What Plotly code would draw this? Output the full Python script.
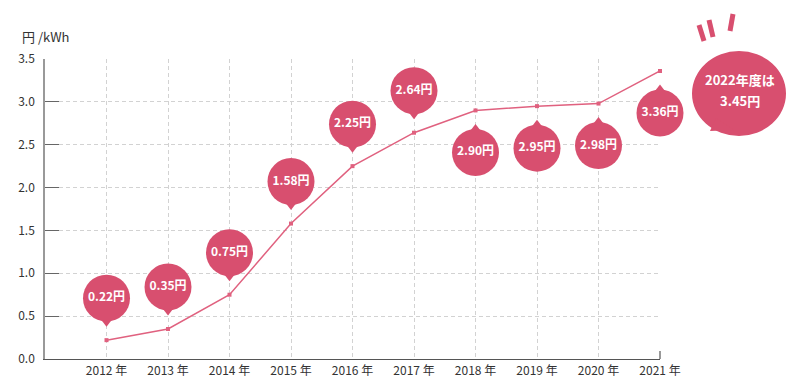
import plotly.graph_objects as go

years = [2012, 2013, 2014, 2015, 2016, 2017, 2018, 2019, 2020, 2021]
values = [0.22, 0.35, 0.75, 1.58, 2.25, 2.64, 2.90, 2.95, 2.98, 3.36]
labels = ["0.22円", "0.35円", "0.75円", "1.58円", "2.25円", "2.64円", "2.90円", "2.95円", "2.98円", "3.36円"]
tick_text = ["2012 年", "2013 年", "2014 年", "2015 年", "2016 年", "2017 年", "2018 年", "2019 年", "2020 年", "2021 年"]
y_ticks = [0, 0.5, 1, 1.5, 2, 2.5, 3, 3.5]
bubble_dir = [1, 1, 1, 1, 1, 1, -1, -1, -1, -1]  # +1 bubble above point, -1 below
callout_lines = ["2022年度は", "3.45円"]

PINK = "#d84f6f"
LINE = "#e0617f"
FONT = "Noto Sans CJK JP"

# page offset of the figure (default body margin)
O = 8
W, H = 800, 386
# plot area in page pixels: x 45..660, y 59..359
ML, MT = 45 - O, 59 - O
MR, MB = W - (660 - O), H - (359 - O)
PW, PH = W - ML - MR, H - MT - MB
YMAX = 3.5
px_per_unit = PH / YMAX

off = 42 / px_per_unit      # bubble centre offset from point
ptr = 24 / px_per_unit      # pointer offset from bubble centre

bx = years
by = [v + d * off for v, d in zip(values, bubble_dir)]
tx = years
ty = [b - d * ptr for b, d in zip(by, bubble_dir)]
tsym = ["triangle-down" if d > 0 else "triangle-up" for d in bubble_dir]

fig = go.Figure()
fig.add_trace(go.Scatter(
    x=years, y=values, mode="lines+markers",
    line=dict(color=LINE, width=1.5),
    marker=dict(symbol="square", size=4, color=LINE),
    cliponaxis=False, hoverinfo="skip"))
fig.add_trace(go.Scatter(
    x=tx, y=ty, mode="markers",
    marker=dict(symbol=tsym, size=9, color=PINK, line=dict(width=0)),
    cliponaxis=False, hoverinfo="skip"))
fig.add_trace(go.Scatter(
    x=bx, y=by, mode="markers+text", text=[f"<b>{t}</b>" for t in labels],
    textposition="middle center",
    textfont=dict(family=FONT, size=12, color="white"),
    marker=dict(symbol="circle", size=47, color=PINK, line=dict(width=0)),
    cliponaxis=False, hoverinfo="skip"))


def px(x):  # page pixel -> paper
    return (x - O - ML) / PW


def py(y):
    return (H - MB - (y - O)) / PH


shapes = []
# bottom-right axis end cap
shapes.append(dict(type="line", xref="paper", yref="paper", x0=px(660), x1=px(660),
                   y0=py(359), y1=py(351), line=dict(color="#555", width=1.2)))
# callout bubble
shapes.append(dict(type="circle", xref="paper", yref="paper",
                   x0=px(692), x1=px(786), y0=py(136), y1=py(51),
                   fillcolor=PINK, line=dict(width=0), layer="above"))
shapes.append(dict(type="path", xref="paper", yref="paper",
                   path=f"M {px(716)},{py(118)} L {px(710)},{py(131)} L {px(734)},{py(130)} Z",
                   fillcolor=PINK, line=dict(width=0), layer="above"))
for (x0, y0, x1, y1) in [(699, 25, 704, 41), (709, 20, 713, 37), (733, 14, 730, 31)]:
    shapes.append(dict(type="line", xref="paper", yref="paper",
                       x0=px(x0), y0=py(y0), x1=px(x1), y1=py(y1),
                       line=dict(color=PINK, width=5), layer="above"))

annotations = [
    dict(text="円 /kWh", xref="paper", yref="paper", x=px(20), y=py(36),
         xanchor="left", yanchor="middle", showarrow=False,
         font=dict(family=FONT, size=13, color="#333")),
    dict(text=f"<b>{callout_lines[0]}</b>", xref="paper", yref="paper", x=px(740), y=py(80),
         xanchor="center", yanchor="middle", showarrow=False,
         font=dict(family=FONT, size=13, color="white")),
    dict(text=f"<b>{callout_lines[1]}</b>", xref="paper", yref="paper", x=px(740), y=py(100),
         xanchor="center", yanchor="middle", showarrow=False,
         font=dict(family=FONT, size=13, color="white")),
]

fig.update_layout(
    width=W, height=H,
    margin=dict(l=ML, r=MR, t=MT, b=MB, pad=0, autoexpand=False),
    paper_bgcolor="white", plot_bgcolor="white",
    showlegend=False,
    font=dict(family=FONT, size=12, color="#333"),
    shapes=shapes, annotations=annotations,
    xaxis=dict(range=[2011, 2021], tickvals=years, ticktext=tick_text, automargin=False,
               showgrid=True, gridcolor="#d2d2d2", griddash="4px,3px", gridwidth=1,
               showline=True, linecolor="#555", linewidth=1.2,
               zeroline=False, ticks="", tickfont=dict(family=FONT, size=12, color="#333")),
    yaxis=dict(range=[0, YMAX], tickvals=y_ticks, tickformat=".1f",
               automargin=False,
               showgrid=True, gridcolor="#d2d2d2", griddash="4px,3px", gridwidth=1,
               showline=True, linecolor="#999", linewidth=1.5,
               zeroline=False, ticks="inside", ticklen=14, tickwidth=1.2, tickcolor="#666",
               ticklabelstandoff=6,
               tickfont=dict(family=FONT, size=12, color="#333")),
)

fig.write_html("out.html")
